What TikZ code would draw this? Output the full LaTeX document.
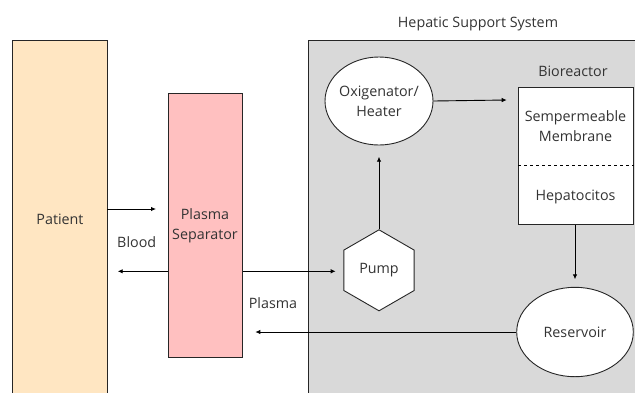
\documentclass[tikz,border=0pt]{standalone}
\usepackage{fontspec}
\setmainfont{Open Sans}
\usetikzlibrary{arrows.meta,shapes.geometric}
\definecolor{txt}{HTML}{333333}
\definecolor{peach}{HTML}{FFE6C2}
\definecolor{pinkf}{HTML}{FFC0C0}
\definecolor{grayf}{HTML}{D9D9D9}
\tikzset{
  lbl/.style={font=\fontsize{14.3}{20}\selectfont, text=txt, inner sep=0pt},
  box/.style={draw=black!85, line width=0.9pt},
  conn/.style={draw=black, line width=0.9pt, -{Latex[length=5pt,width=4.5pt]}},
}
\begin{document}
\begin{tikzpicture}[x=1pt,y=-1pt]
\useasboundingbox (0,0) rectangle (635,392);
% Patient
\path[box, fill=peach] (12,40) rectangle (107,400);
\node[lbl] (patient) at (60,219) {Patient};
% Plasma separator
\node[box, fill=pinkf, minimum width=74.6pt, minimum height=264.3pt, inner sep=0pt, anchor=north west] (sep) at (167.7,93) {};
\node[lbl, align=center] (septxt) at (205,226) {Plasma\\Separator};
% Hepatic support system
\path[box, fill=grayf] (308.3,40) rectangle (645,400);
\node[lbl] (hss) at (478,24) {Hepatic Support System};
% Oxigenator
\node[box, fill=white, ellipse, minimum width=108pt, minimum height=88pt, inner sep=0pt] (oxi) at (379,101) {};
\node[lbl, align=center] (oxitxt) at (379,101) {Oxigenator/\\Heater};
% Bioreactor
\node[lbl] (biolbl) at (573,71) {Bioreactor};
\node[box, fill=white, minimum width=115pt, minimum height=136.7pt, inner sep=0pt, anchor=north west] (bio) at (518.3,87.3) {};
\draw[dashed, line width=0.9pt] (bio.west |- 0,165.7) coordinate (dl) -- (bio.east |- 0,165.7) coordinate (dr);
\node[lbl, align=center] (semi) at (575.5,126) {Sempermeable\\Membrane};
\node[lbl] (hepa) at (575.5,197) {Hepatocitos};
% Reservoir
\node[box, fill=white, ellipse, minimum width=116.6pt, minimum height=89.4pt, inner sep=0pt] (res) at (575,332) {};
\node[lbl] (restxt) at (575,332) {Reservoir};
% Pump
\node[box, fill=white, regular polygon, regular polygon sides=6, minimum size=81pt, inner sep=0pt, shape border rotate=30] (pump) at (379,270.3) {};
\node[lbl] (pumptxt) at (379,270.3) {Pump};
% Connectors
\coordinate (a1) at (156,209);
\draw[conn] (107,209) coordinate (p1) -- (a1);
\coordinate (a2) at (117.7,271.3);
\draw[conn] (sep.west |- a2) -- (a2);
\node[lbl] (blood) at (136.7,242) {Blood};
\coordinate (a3) at (335.7,271.3);
\draw[conn] (sep.east |- a3) -- (a3);
\node[lbl] (plasma) at (273,303) {Plasma};
\coordinate (a4) at (255.3,332);
\draw[conn] (res.west) -- (a4);
\coordinate (a5) at (379,156.7);
\draw[conn] (pump.north) -- (a5);
\coordinate (a6) at (506.7,100);
\draw[conn] (oxi.east) -- (a6);
\coordinate (a7) at (575,279.3);
\draw[conn] (bio.south -| a7) -- (a7);
\end{tikzpicture}
\end{document}
